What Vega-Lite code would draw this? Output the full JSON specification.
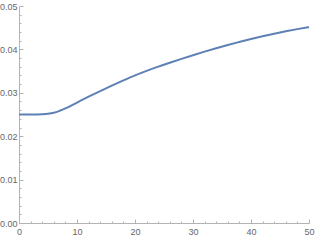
{
  "$schema": "https://vega.github.io/schema/vega-lite/v6.json",
  "autosize": "none",
  "width": 290,
  "height": 217,
  "padding": {"left": 19, "top": 6, "right": 6, "bottom": 17},
  "background": "white",
  "config": {"view": {"stroke": null}, "axis": {"grid": false, "labelFont": "Liberation Sans", "labelFontSize": 9, "labelColor": "#666666", "domainColor": "#b3b3b3", "tickColor": "#b3b3b3", "domainWidth": 1, "tickWidth": 1}},
  "data": {"values": [
    {"x": 0, "y": 0.0250}, {"x": 2, "y": 0.0250}, {"x": 3, "y": 0.02501}, {"x": 4, "y": 0.02504},
    {"x": 5, "y": 0.02515}, {"x": 6, "y": 0.0254}, {"x": 7, "y": 0.02585}, {"x": 8, "y": 0.0264},
    {"x": 9, "y": 0.02705}, {"x": 10, "y": 0.02775}, {"x": 12, "y": 0.0291}, {"x": 14, "y": 0.0304},
    {"x": 16, "y": 0.03165}, {"x": 18, "y": 0.03285}, {"x": 20, "y": 0.034}, {"x": 22, "y": 0.03505},
    {"x": 24, "y": 0.03602}, {"x": 26, "y": 0.03693}, {"x": 28, "y": 0.03781}, {"x": 30, "y": 0.03866},
    {"x": 32, "y": 0.03948}, {"x": 34, "y": 0.04027}, {"x": 36, "y": 0.04102}, {"x": 38, "y": 0.04172},
    {"x": 40, "y": 0.0424}, {"x": 42, "y": 0.04303}, {"x": 44, "y": 0.04362}, {"x": 46, "y": 0.04417},
    {"x": 48, "y": 0.04467}, {"x": 50, "y": 0.04512}
  ]},
  "mark": {"type": "line", "interpolate": "monotone", "color": "#5E81B5", "strokeWidth": 2},
  "encoding": {
    "x": {"field": "x", "type": "quantitative", "title": null,
      "scale": {"domain": [0, 50], "nice": false, "zero": false},
      "axis": {"values": [0,2,4,6,8,10,12,14,16,18,20,22,24,26,28,30,32,34,36,38,40,42,44,46,48,50],
        "labelExpr": "datum.value % 10 === 0 ? format(datum.value, 'd') : ''",
        "tickSize": {"condition": {"test": "datum.value % 10 === 0", "value": -4}, "value": -2},
        "labelPadding": 8, "labelFlush": false, "labelOverlap": false}},
    "y": {"field": "y", "type": "quantitative", "title": null,
      "scale": {"domain": [0, 0.05], "nice": false},
      "axis": {"values": [0,0.002,0.004,0.006,0.008,0.01,0.012,0.014,0.016,0.018,0.02,0.022,0.024,0.026,0.028,0.03,0.032,0.034,0.036,0.038,0.04,0.042,0.044,0.046,0.048,0.05],
        "labelExpr": "abs(datum.value*100 - round(datum.value*100)) < 0.001 ? format(datum.value, '.2f') : ''",
        "tickSize": {"condition": {"test": "abs(datum.value*100 - round(datum.value*100)) < 0.001", "value": -4}, "value": -2},
        "labelPadding": 6, "labelFlush": false, "labelOverlap": false}}
  }
}
